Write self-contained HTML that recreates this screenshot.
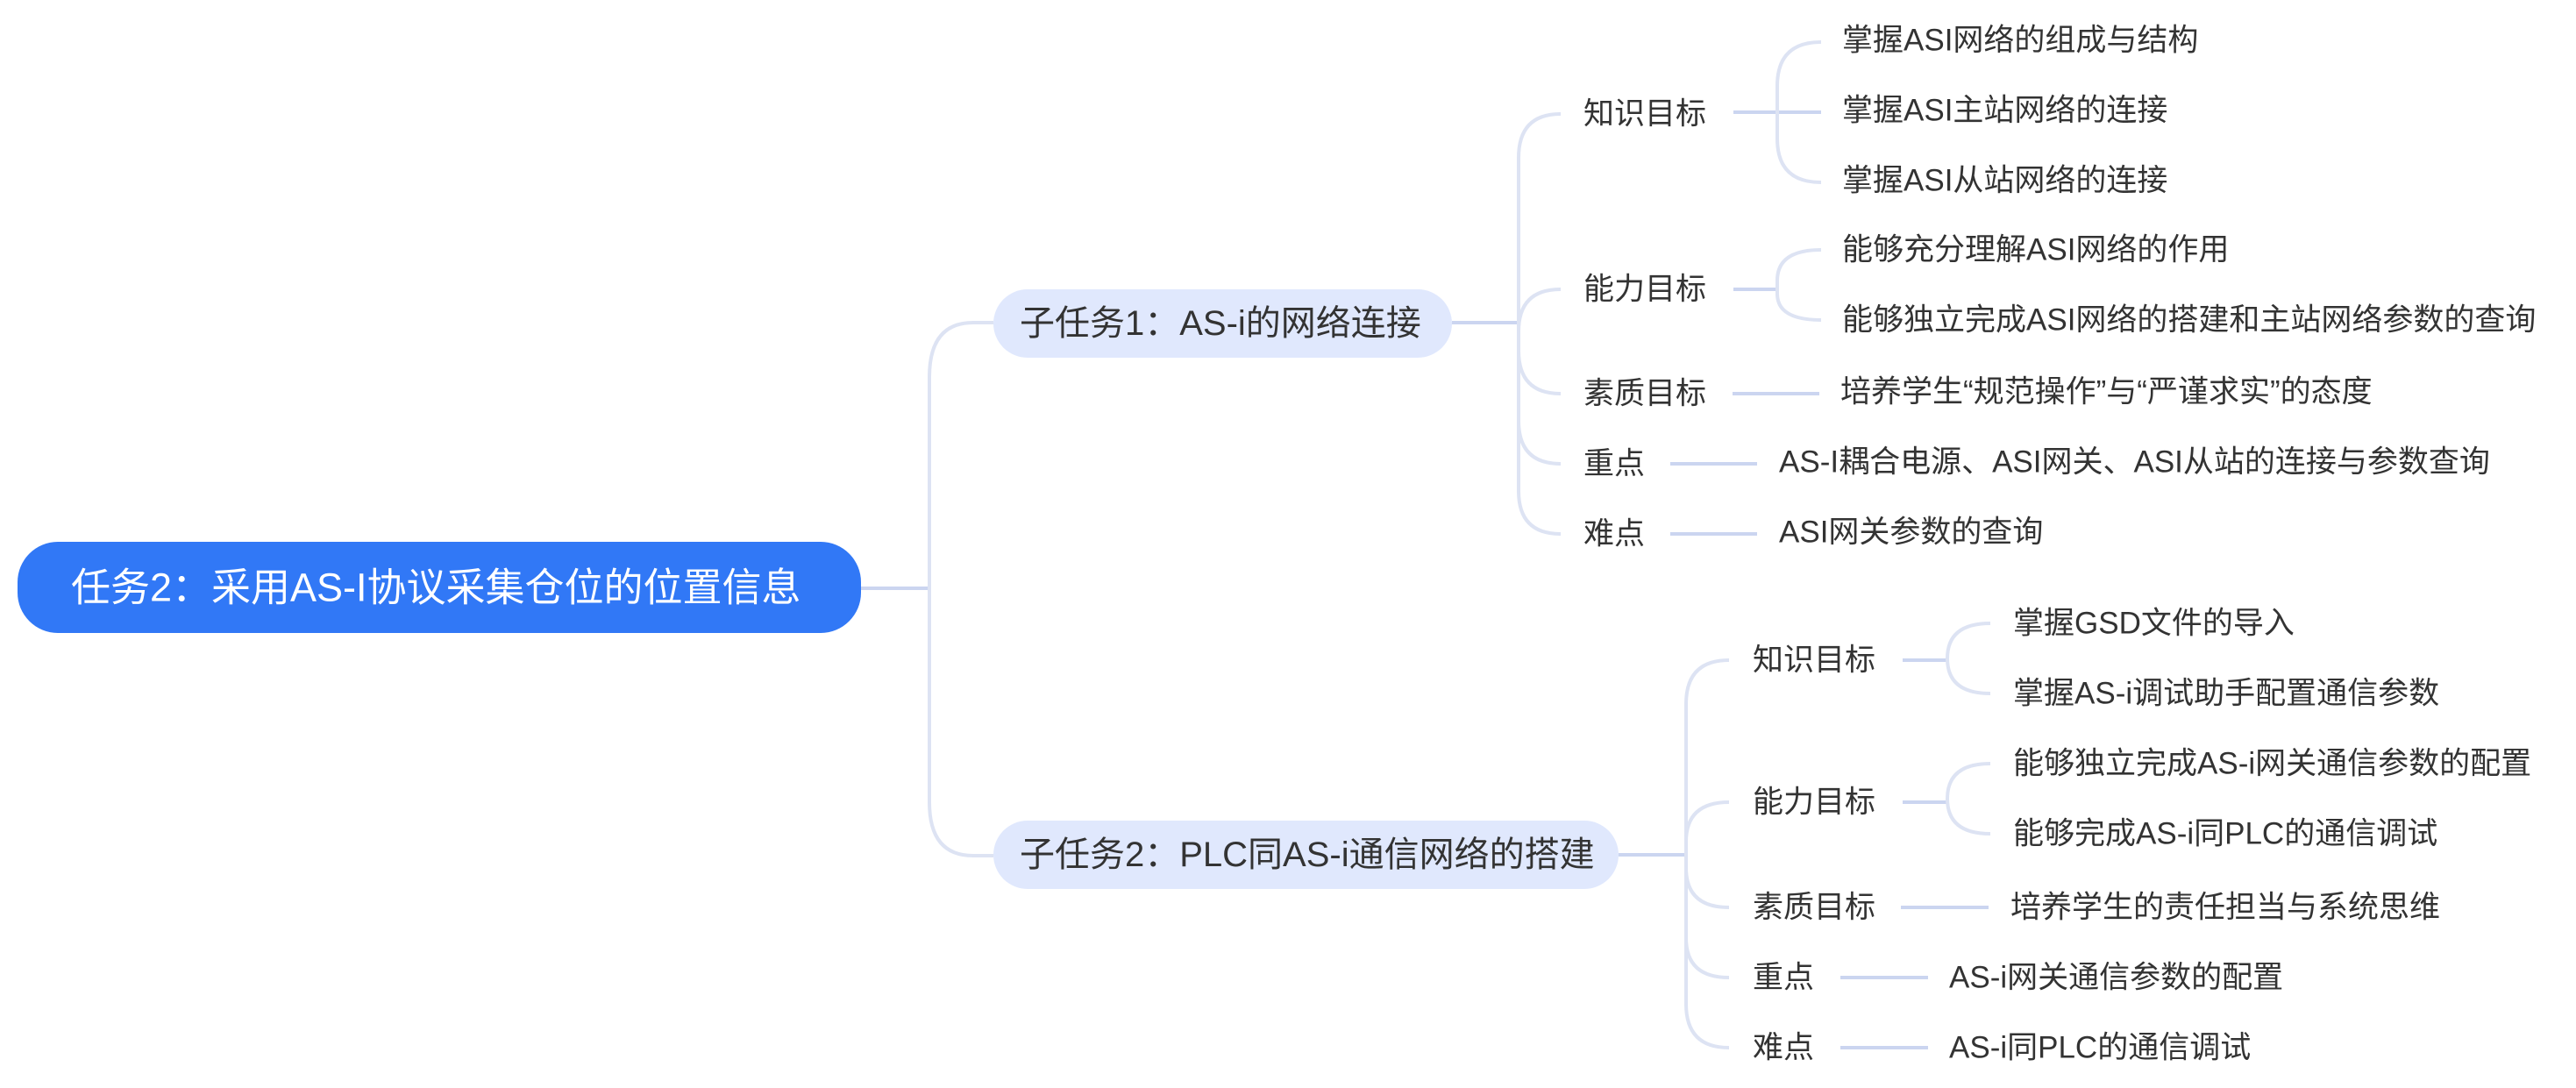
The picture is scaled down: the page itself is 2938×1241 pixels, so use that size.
<!DOCTYPE html>
<html><head><meta charset="utf-8"><style>
html,body{margin:0;padding:0;background:#fff;}
svg{display:block;}
text{font-family:"Liberation Sans","Noto Sans CJK SC",sans-serif;fill:#333;dominant-baseline:central;}
</style></head><body>
<svg width="2938" height="1241" viewBox="0 0 2938 1241" xmlns="http://www.w3.org/2000/svg">
<g fill="none" stroke="#dde3f3" stroke-width="4">
<g stroke="#cbd5f0">
<path d="M982 671 H1060"/>
<path d="M1656 368 H1732"/>
<path d="M1977 128 H2077"/>
<path d="M1977 330 H2027"/>
<path d="M1976 449 H2075"/>
<path d="M1905 529 H2004"/>
<path d="M1905 609 H2004"/>
<path d="M1846 975 H1923"/>
<path d="M2170 753 H2221"/>
<path d="M2170 915 H2221"/>
<path d="M2168 1035 H2268"/>
<path d="M2099 1115 H2199"/>
<path d="M2099 1195 H2199"/>
</g>
<path d="M1133 368 H1110 Q1060 368 1060 430 V915 Q1060 976 1110 976 H1133"/>
<path d="M1780 130 Q1732 130 1732 180 V560 Q1732 609 1780 609"/>
<path d="M1780 330 Q1732 330 1732 378"/>
<path d="M1780 449 Q1732 449 1732 400"/>
<path d="M1780 529 Q1732 529 1732 480"/>
<path d="M2077 48 Q2027 48 2027 98 V158 Q2027 208 2077 208"/>
<path d="M2077 285 Q2027 285 2027 320 V335 Q2027 365 2077 365"/>
<path d="M1972 753 Q1923 753 1923 803 V1145 Q1923 1195 1972 1195"/>
<path d="M1972 915 Q1923 915 1923 960"/>
<path d="M1972 1035 Q1923 1035 1923 990"/>
<path d="M1972 1115 Q1923 1115 1923 1070"/>
<path d="M2270 711 Q2221 711 2221 751 Q2221 791 2270 791"/>
<path d="M2270 871 Q2221 871 2221 911 Q2221 951 2270 951"/>
</g>
<rect x="20" y="618" width="962" height="104" rx="46" fill="#3178f6"/>
<text x="81" y="670" font-size="45" style="fill:#fff">任务2：采用AS-I协议采集仓位的位置信息</text>
<rect x="1133" y="330" width="523" height="78" rx="39" fill="#e0e8fd"/>
<text x="1163" y="369" font-size="40">子任务1：AS-i的网络连接</text>
<rect x="1133" y="936" width="713" height="78" rx="39" fill="#e0e8fd"/>
<text x="1163" y="975" font-size="40">子任务2：PLC同AS-i通信网络的搭建</text>
<g font-size="35">
<text x="1806" y="130">知识目标</text>
<text x="1806" y="330">能力目标</text>
<text x="1806" y="449">素质目标</text>
<text x="1806" y="529">重点</text>
<text x="1806" y="609">难点</text>
<text x="2101" y="46">掌握ASI网络的组成与结构</text>
<text x="2101" y="126">掌握ASI主站网络的连接</text>
<text x="2101" y="206">掌握ASI从站网络的连接</text>
<text x="2101" y="285">能够充分理解ASI网络的作用</text>
<text x="2101" y="365">能够独立完成ASI网络的搭建和主站网络参数的查询</text>
<text x="2099" y="447">培养学生“规范操作”与“严谨求实”的态度</text>
<text x="2029" y="527">AS-I耦合电源、ASI网关、ASI从站的连接与参数查询</text>
<text x="2029" y="607">ASI网关参数的查询</text>
<text x="1999" y="753">知识目标</text>
<text x="1999" y="915">能力目标</text>
<text x="1999" y="1035">素质目标</text>
<text x="1999" y="1115">重点</text>
<text x="1999" y="1195">难点</text>
<text x="2296" y="711">掌握GSD文件的导入</text>
<text x="2296" y="791">掌握AS-i调试助手配置通信参数</text>
<text x="2296" y="871">能够独立完成AS-i网关通信参数的配置</text>
<text x="2296" y="951">能够完成AS-i同PLC的通信调试</text>
<text x="2293" y="1035">培养学生的责任担当与系统思维</text>
<text x="2223" y="1115">AS-i网关通信参数的配置</text>
<text x="2223" y="1195">AS-i同PLC的通信调试</text>
</g>
</svg>
</body></html>
